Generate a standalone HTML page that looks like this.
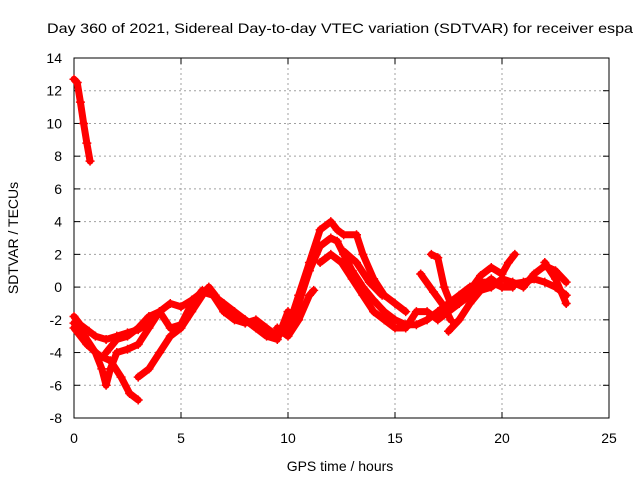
<!DOCTYPE html>
<html><head><meta charset="utf-8"><style>body{margin:0;background:#fff}svg{display:block;font-family:"Liberation Sans",Arial,sans-serif}</style></head>
<body>
<svg id="chart" width="640" height="480">
<rect width="640" height="480" fill="#fff"/>
<text x="340" y="33" text-anchor="middle" font-size="14" textLength="586" lengthAdjust="spacingAndGlyphs">Day 360 of 2021, Sidereal Day-to-day VTEC variation (SDTVAR) for receiver espa</text>
<g id="grid"></g><g id="axes"></g><g id="series"></g>
<text x="340" y="471" text-anchor="middle" font-size="14">GPS time / hours</text>
<text transform="translate(18,238) rotate(-90)" text-anchor="middle" font-size="14">SDTVAR / TECUs</text>
</svg>
<script>
const xTicks=[0,5,10,15,20,25];
const yTicks=[-8,-6,-4,-2,0,2,4,6,8,10,12,14];
const track1=[[0,12.7],[0.15,12.5],[0.3,11.3],[0.45,10],[0.6,8.8],[0.75,7.7]];
const track2=[[0,-1.8],[0.3,-2.3],[0.7,-2.7],[1,-3],[1.5,-3.2],[2,-3],[2.5,-2.8],[3,-2.6],[3.5,-2.2],[4,-1.5],[4.5,-1],[5,-1.2],[5.5,-0.8],[6,-0.3],[6.5,-0.5],[7,-1],[7.5,-1.5],[8,-2],[8.5,-2.5],[9,-2.8],[9.5,-3],[10,-2.5],[10.5,-1],[11,1],[11.5,2.5],[12,3],[12.3,2.8],[12.6,2],[13,1],[13.5,0],[14,-0.8],[14.5,-1.5],[15,-2],[15.5,-2.3],[16,-2.3],[16.5,-2],[17,-1.5],[17.5,-1],[18,-0.5],[18.5,0],[19,0.3],[19.5,0.3],[20,0],[20.5,0.2],[21,0.3],[21.5,0.5],[22,0.3],[22.5,0],[23,-0.5]];
const track3=[[0,-2.2],[0.5,-3],[1,-4],[1.3,-5],[1.5,-6],[1.7,-5],[2,-4],[2.5,-3.8],[3,-3.5],[3.5,-2.5],[4,-1.5]];
const track4=[[0,-2.5],[0.6,-3.5],[1.2,-4.2],[1.7,-4.5],[2.2,-5.5],[2.6,-6.5],[3,-6.9]];
const track5=[[3,-5.5],[3.5,-5],[4,-4],[4.5,-3],[5,-2.5],[5.5,-1.5],[6,-0.5],[6.3,0],[6.6,-0.5],[7,-1.5],[8,-2],[9,-3],[9.5,-3.2],[10,-1.5]];
const track6=[[1.5,-4],[2,-3.2],[2.5,-3],[3,-2.5],[3.5,-1.8],[4,-1.5],[4.5,-2.5],[5,-2.3],[5.5,-1],[6,-0.2],[6.5,-0.5],[7,-1.5],[7.5,-2],[8,-2.2],[8.5,-2],[9,-2.5],[9.5,-3],[10,-2.5],[10.5,-0.5],[11,1.5],[11.5,3.5],[12,4],[12.3,3.5],[12.6,3.2],[13.2,3.2],[13.5,2],[14,0.5],[14.5,-0.5],[15,-1],[15.5,-1.5]];
const track7=[[9.5,-2.5],[10,-3],[10.5,-2],[11,-0.5],[11.2,-0.2]];
const track8=[[11.5,1.5],[12,2],[12.5,1.5],[13,0.5],[13.5,-0.5],[14,-1.5],[14.5,-2],[15,-2.5],[15.5,-2.5],[16,-1.5],[16.5,-1.5],[17,-2],[17.5,-1.5],[18,-1],[18.5,-0.5],[19,0],[19.5,0.5],[20,0],[20.5,0]];
const track9=[[16.2,0.8],[16.8,-0.3],[17.3,-1.2],[17.6,-2]];
const track10=[[16.7,2],[17,1.8],[17.3,0],[17.6,-1],[18,-0.8],[18.5,-0.2],[19,0.7],[19.5,1.2],[20,0.8],[20.3,1.5],[20.6,2]];
const track11=[[17.5,-2.7],[18,-2],[18.5,-1],[19,-0.2],[19.5,0],[20,0.5],[20.5,0.3],[21,0],[21.5,0.8],[22,1.3],[22.5,1],[23,0.3]];
const track12=[[22,1.5],[22.5,0.5],[23,-1]];
const track13=[[12.6,2.2],[13.2,1.5],[13.8,0.3],[14.4,-0.5]];
const tracks=[track1,track2,track3,track4,track5,track6,track7,track8,track9,track10,track11,track12,track13];
const X0=74,X1=609,Y0=418,Y1=58,xMin=0,xMax=25,yMin=-8,yMax=14;
const sx=v=>X0+(v-xMin)/(xMax-xMin)*(X1-X0);
const sy=v=>Y0-(v-yMin)/(yMax-yMin)*(Y0-Y1);
const NS='http://www.w3.org/2000/svg';
function mk(t,a,p){const e=document.createElementNS(NS,t);for(const k in a)e.setAttribute(k,a[k]);p.appendChild(e);return e;}
const grid=document.getElementById('grid'),axes=document.getElementById('axes'),ser=document.getElementById('series');
xTicks.forEach(t=>{const x=sx(t);
 if(t>xMin&&t<xMax){const g=mk('line',{x1:x,x2:x,y1:Y1,y2:Y0,stroke:'#a0a0a0','stroke-dasharray':'2,3'},grid);}
 mk('line',{x1:x,x2:x,y1:Y0,y2:Y0-6,stroke:'#000'},axes);mk('line',{x1:x,x2:x,y1:Y1,y2:Y1+6,stroke:'#000'},axes);
 const l=mk('text',{x:x,y:443,'text-anchor':'middle','font-size':14},axes);l.textContent=t;
 
 });
yTicks.forEach(t=>{const y=sy(t);
 if(t>yMin&&t<yMax){const g=mk('line',{x1:X0,x2:X1,y1:y,y2:y,stroke:'#a0a0a0','stroke-dasharray':'2,3'},grid);}
 mk('line',{x1:X0,x2:X0+6,y1:y,y2:y,stroke:'#000'},axes);mk('line',{x1:X1,x2:X1-6,y1:y,y2:y,stroke:'#000'},axes);
 const l=mk('text',{x:62,y:y+5,'text-anchor':'end','font-size':14},axes);l.textContent=t;
 
 });
const frame=mk('rect',{x:X0,y:Y1,width:X1-X0,height:Y0-Y1,fill:'none',stroke:'#000'},axes);


tracks.forEach((tr,i)=>{
 const pl=mk('polyline',{points:tr.map(p=>sx(p[0])+','+sy(p[1])).join(' '),fill:'none',stroke:'#f00','stroke-width':7,'stroke-linejoin':'round','stroke-linecap':'round'},ser);
 
 
 tr.forEach(p=>{const x=sx(p[0]),y=sy(p[1]);
  const m=mk('path',{d:`M${x-4.5},${y}h9M${x},${y-4.5}v9`,stroke:'#f00','stroke-width':1.5},ser);
  
  });
});
</script>
</body></html>
